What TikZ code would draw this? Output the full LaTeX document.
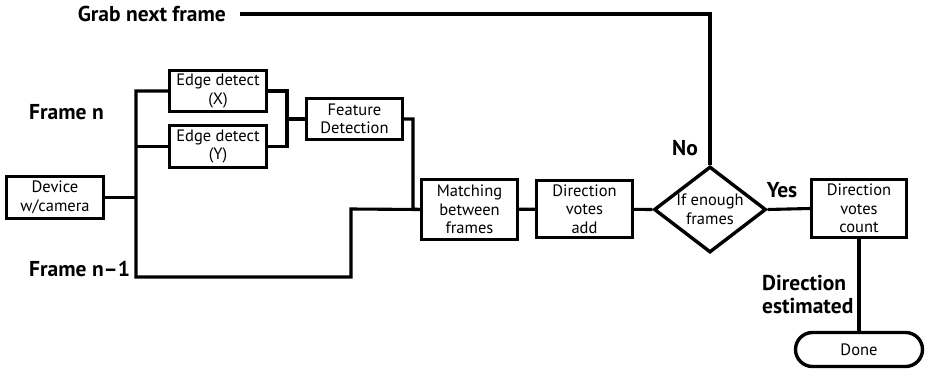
\documentclass[tikz,border=0pt]{standalone}
\usepackage{fontspec}
\setmainfont{PT Sans}
\usetikzlibrary{shapes.geometric,shapes.misc}
\begin{document}
\begin{tikzpicture}[x=1pt,y=-1pt,
  box/.style={draw,line width=3.4pt,inner sep=0pt,align=center,
    font=\fontsize{16.5}{18.5}\selectfont},
  conn/.style={line width=3.1pt},
  lbl/.style={inner sep=0pt,font=\bfseries\fontsize{21.5}{23}\selectfont}]
\useasboundingbox (0,0) rectangle (928,370);
% boxes
\node[box,minimum width=97pt,minimum height=42pt] (dev) at (55,197.5) {Device\\w/camera};
\node[box,minimum width=97pt,minimum height=41pt] (ex) at (218,91) {Edge detect\\(X)};
\node[box,minimum width=97pt,minimum height=42pt] (ey) at (218,146.5) {Edge detect\\(Y)};
\node[box,minimum width=96pt,minimum height=41pt] (feat) at (354.5,119) {Feature\\Detection};
\node[box,minimum width=96pt,minimum height=60pt] (match) at (469.5,209.5) {Matching\\between\\frames};
\node[box,minimum width=96pt,minimum height=57pt] (vadd) at (584.5,209) {Direction\\votes\\add};
\node[draw,line width=3.4pt,diamond,inner sep=0pt,minimum width=112pt,minimum height=86pt,
  shape aspect=1.3] (dia) at (710,209.5) {};
\node[inner sep=0pt,align=center,font=\fontsize{16.5}{18.5}\selectfont] (diatext) at (710,209.5) {If enough\\frames};
\node[box,minimum width=95pt,minimum height=58pt] (count) at (859,208.5) {Direction\\votes\\count};
\node[box,rounded rectangle,minimum width=127pt,minimum height=34pt] (done) at (859,349.5) {Done};
% labels
\node[lbl,anchor=east] (grab) at (226,14) {Grab next frame};
\node[lbl,anchor=west] (fn) at (29,112) {Frame n};
\node[lbl,anchor=west] (fn1) at (29,269) {Frame n–1};
\node[lbl] (no) at (685,148) {No};
\node[lbl] (yes) at (782,190) {Yes};
\node[lbl,anchor=west,align=left] (est) at (762,294.5) {Direction\\estimated};
% coordinates
\coordinate (bx) at (136,91);
\coordinate (by) at (136,146.5);
\coordinate (bd) at (136,197.5);
\coordinate (bb) at (136,277);
\coordinate (sb) at (351,277);
\coordinate (st) at (351,209);
\coordinate (rx) at (287,91);
\coordinate (ry) at (287,146.5);
\coordinate (rm) at (287,119);
\coordinate (fr) at (413,119);
\coordinate (fb) at (413,209);
\coordinate (nt) at (710,14);
\coordinate (gl) at (240,14);
% connectors
\draw[conn] (ex.west) -- (bx) -- (bb) -- (sb) -- (st) -- (match.west);
\draw[conn] (ey.west) -- (by);
\draw[conn] (dev.east) -- (bd);
\draw[conn] (ex.east) -- (rx) -- (ry) -- (ey.east);
\draw[conn] (rm) -- (feat.west);
\draw[conn] (feat.east) -- (fr) -- (fb) -- (match.west);
\draw[conn] (match) -- (vadd);
\draw[conn] (vadd) -- (dia.west);
\draw[conn] (dia.east) -- (count.west);
\draw[conn] (count) -- (done);
\draw[conn] (dia.north) -- (nt) -- (gl);
\end{tikzpicture}
\end{document}
